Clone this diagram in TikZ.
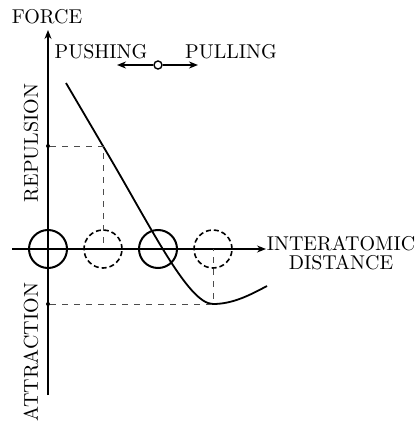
\documentclass[tikz,border=0pt]{standalone}
\usepackage{tikz}
\usetikzlibrary{arrows.meta}

\begin{document}
\begin{tikzpicture}[x=0.5pt,y=-0.5pt,>={Stealth[length=4.5pt,width=3.5pt]},
        atom/.style={circle,draw,line width=1pt,minimum size=19pt,inner sep=0pt},
        ghost/.style={atom,dash pattern=on 2.5pt off 1.5pt,line width=0.8pt},
        marker/.style={circle,fill,inner sep=0pt,minimum size=2pt},
        pivot/.style={circle,draw,fill=white,line width=0.7pt,inner sep=0pt,minimum size=4pt},
        guide/.style={dashed,line width=0.4pt,black!70},
        axis/.style={line width=0.6pt,->},
        lbl/.style={font=\normalsize,inner sep=1pt}]
    \useasboundingbox (0,0) rectangle (417,423);
    % axes
    \coordinate (ybot) at (48,395);
    \coordinate (ytop) at (48,30);
    \coordinate (xleft) at (12,249);
    \coordinate (xright) at (266,249);
    \draw[axis] (ybot) -- (ytop);
    \draw[axis] (xleft) -- (xright);
    \node[lbl] (force) at (47,17) {FORCE};
    \node[lbl, align=center] (dist) at (341,253) {INTERATOMIC\\[-2.5pt]DISTANCE};
    \node[lbl, rotate=90] (rep) at (31,143) {REPULSION};
    \node[lbl, rotate=90] (att) at (31,352) {ATTRACTION};
    % pushing / pulling
    \node[lbl] (push) at (101,52) {PUSHING};
    \node[lbl] (pull) at (231,52) {PULLING};
    \node[pivot] (piv) at (158,65) {};
    \coordinate (pushend) at (117,65);
    \coordinate (pullend) at (198,65);
    \draw[->,line width=0.8pt] (piv) -- (pushend);
    \draw[->,line width=0.8pt] (piv) -- (pullend);
    % atoms
    \node[atom] (a1) at (48,249) {};
    \node[ghost] (g1) at (103,249) {};
    \node[atom] (a2) at (158,249) {};
    \node[ghost] (g2) at (213,249) {};
    % force curve
    \coordinate (start) at (66,83);
    \coordinate (p1) at (103,146);
    \coordinate (p2) at (213,304);
    \coordinate (stop) at (267,286);
    \draw[line width=0.9pt] (start) -- (p1)
        .. controls (150,225) and (188,304) .. (p2)
        .. controls (233,304) and (250,295) .. (stop);
    % guides
    \node[marker] (m1) at (48,146) {};
    \node[marker] (m2) at (48,304) {};
    \draw[guide] (m1) -- (p1) -- (g1.center);
    \draw[guide] (m2) -- (p2) -- (g2.center);
\end{tikzpicture}
\end{document}
